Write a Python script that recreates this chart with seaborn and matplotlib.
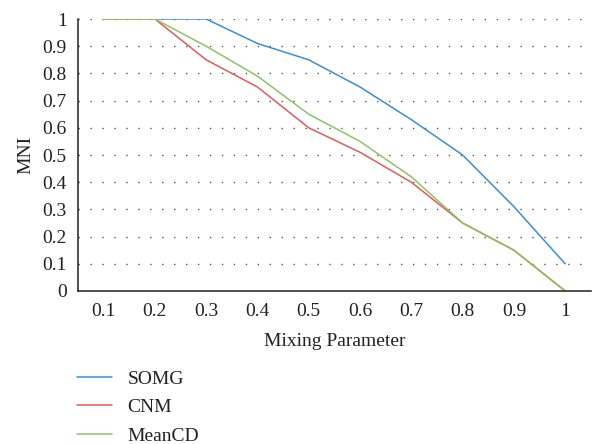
import matplotlib
matplotlib.use("Agg")
import matplotlib.pyplot as plt
import seaborn as sns
import pandas as pd

mixing = [0.1, 0.2, 0.3, 0.4, 0.5, 0.6, 0.7, 0.8, 0.9, 1.0]
somg = [1.0, 1.0, 1.0, 0.91, 0.85, 0.75, 0.63, 0.50, 0.31, 0.10]
cnm = [1.0, 1.0, 0.85, 0.75, 0.60, 0.51, 0.40, 0.25, 0.15, 0.0]
meancd = [1.0, 1.0, 0.90, 0.79, 0.65, 0.55, 0.42, 0.25, 0.15, 0.0]
series_names = ["SOMG", "CNM", "MeanCD"]
colors = ["#3a8fd3", "#e35a5a", "#8dc265"]
xtick_labels = ["0.1", "0.2", "0.3", "0.4", "0.5", "0.6", "0.7", "0.8", "0.9", "1"]
ytick_labels = ["0", "0.1", "0.2", "0.3", "0.4", "0.5", "0.6", "0.7", "0.8", "0.9", "1"]

sns.set_style("white")
plt.rcParams["font.family"] = ["Liberation Serif", "DejaVu Serif"]

FS = 14

df = pd.DataFrame({
    "Mixing Parameter": mixing * 3,
    "MNI": somg + cnm + meancd,
    "Method": [n for n in series_names for _ in mixing],
})

fig = plt.figure(figsize=(5.95, 4.44), dpi=100)
ax = fig.add_axes([0.131, 0.3446, 0.862, 0.6126])

sns.lineplot(data=df, x="Mixing Parameter", y="MNI", hue="Method",
             palette=dict(zip(series_names, colors)), linewidth=1.1,
             ax=ax, legend=True)

ax.set_xlim(0.05, 1.05)
ax.set_ylim(0, 1)
ax.set_xticks(mixing)
ax.set_xticklabels(xtick_labels)
yt = [i / 10 for i in range(11)]
ax.set_yticks(yt)
ax.set_yticklabels(ytick_labels)
ax.tick_params(axis="both", length=0, labelsize=FS, colors="#222222")
ax.tick_params(axis="y", pad=8)
ax.tick_params(axis="x", pad=9)

for y in yt[1:]:
    ax.axhline(y, color="#555555", linewidth=1.0, linestyle=(0, (1.0, 7.6)), zorder=0)

for s in ["top", "right"]:
    ax.spines[s].set_visible(False)
for s in ["left", "bottom"]:
    ax.spines[s].set_color("#222222")
    ax.spines[s].set_linewidth(1.1)

ax.set_xlabel("Mixing Parameter", fontsize=FS, color="#222222", labelpad=9)
ax.set_ylabel("MNI", fontsize=FS, color="#222222", labelpad=6)

handles, labels = ax.get_legend_handles_labels()
ax.get_legend().remove()
fig.legend(handles, labels, loc="upper left", bbox_to_anchor=(0.129, 0.166),
           frameon=False, borderpad=0, borderaxespad=0, handlelength=1.8,
           handletextpad=0.8, labelspacing=0.55, fontsize=FS,
           labelcolor="#222222")

fig.savefig("out.png", dpi=100)
